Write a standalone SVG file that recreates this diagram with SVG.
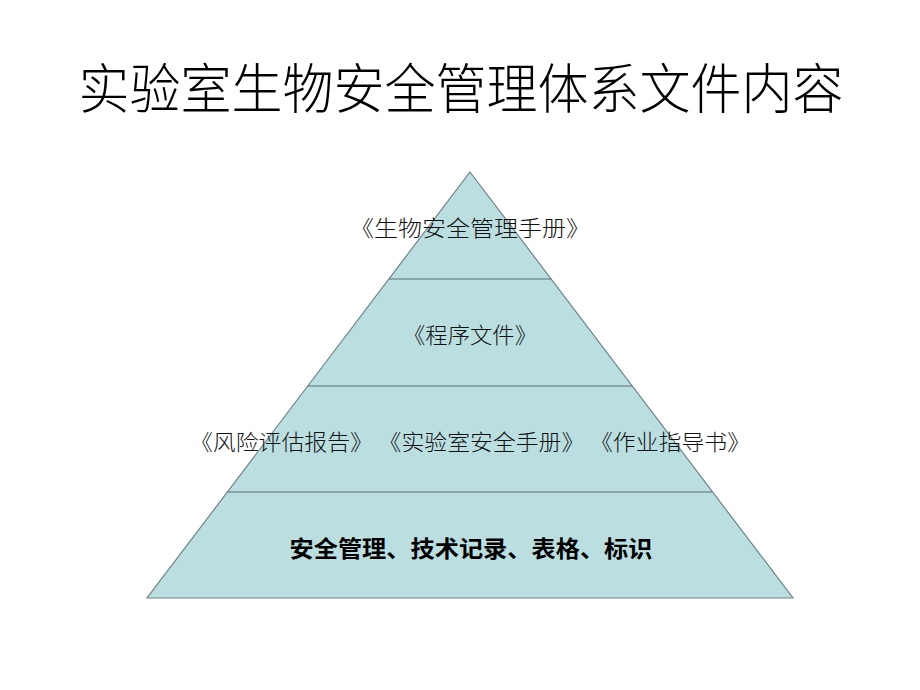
<svg xmlns="http://www.w3.org/2000/svg" width="920" height="690" viewBox="0 0 920 690">
<style>
.t{font-family:"Liberation Serif","Noto Sans CJK SC",serif;fill:#000;text-anchor:middle}
.lvl{font-family:"Liberation Serif","Noto Sans CJK SC",serif;font-size:22px;font-weight:300;fill:#111;text-anchor:middle}
.edge{stroke:#5a6e70;stroke-width:1.2;fill:none}
</style>
<rect width="920" height="690" fill="#ffffff"/>
<text class="t" x="461" y="109" font-size="54" font-weight="300" textLength="765" lengthAdjust="spacingAndGlyphs">实验室生物安全管理体系文件内容</text>
<g id="pyramid">
<polygon points="470,172 793,598 147,598" fill="#bbdfe1" stroke="#6f8486" stroke-width="1.2"/>
</g>
<g id="connectors">
<line class="edge" x1="389" y1="279" x2="551" y2="279"/>
<line class="edge" x1="308" y1="386" x2="632" y2="386"/>
<line class="edge" x1="228" y1="492" x2="712" y2="492"/>
</g>
<g id="level1"><text class="lvl" x="470" y="236" textLength="240" lengthAdjust="spacingAndGlyphs">《生物安全管理手册》</text></g>
<g id="level2"><text class="lvl" x="470" y="343" textLength="134" lengthAdjust="spacingAndGlyphs">《程序文件》</text></g>
<g id="level3"><text class="lvl" x="470" y="450" textLength="560" lengthAdjust="spacingAndGlyphs">《风险评估报告》 《实验室安全手册》 《作业指导书》</text></g>
<g id="level4"><text class="t" x="471" y="557" font-size="23" font-weight="bold" textLength="363" lengthAdjust="spacingAndGlyphs">安全管理、技术记录、表格、标识</text></g>
</svg>
